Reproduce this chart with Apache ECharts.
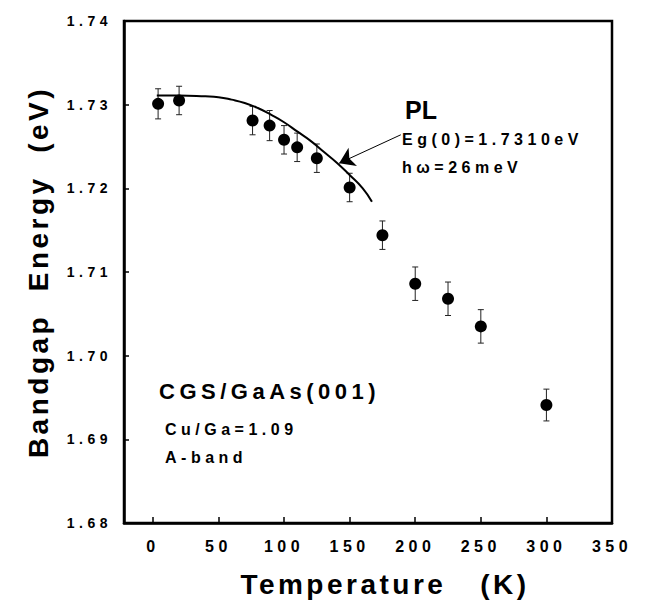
<!DOCTYPE html>
<html lang="en">
<head>
    <meta charset="UTF-8">
    <title>Bandgap Energy vs Temperature</title>
    <script src="https://cdn.jsdelivr.net/npm/echarts@6/dist/echarts.min.js"></script>
    <style type="text/css">
        html, body {
            margin: 0;
            padding: 0;
            background: #fff;
        }
        #chart {
            width: 660px;
            height: 610px;
        }
        /* old figure uses tracked Helvetica, svg text takes css letter-spacing */
        #chart text {
            letter-spacing: 4.5px;
            white-space: pre;
        }
        #chart text[style*="28px"] {
            letter-spacing: 3.5px;
        }
        #chart text[style*="25px"] {
            letter-spacing: 0;
        }
    </style>
</head>
<body>
<div id="chart"></div>
<script type="text/javascript">
    // measured points (K, eV) and their error bars
    var tempK = [4, 20, 76, 89, 100, 110, 125, 150, 175, 200, 225, 250, 300];
    var energyEV = [1.7301, 1.7305, 1.7281, 1.7275, 1.7258, 1.7249, 1.7236, 1.7201, 1.7144, 1.7086, 1.7068, 1.7035, 1.6941];
    var errEV = [0.0018, 0.0017, 0.0017, 0.0018, 0.0017, 0.0017, 0.0017, 0.0017, 0.0017, 0.0020, 0.0020, 0.0020, 0.0019];

    // fitted PL curve
    var fitT = [3, 20, 40, 50, 60, 70, 80, 90, 100, 110, 120, 130, 140, 150, 160, 167];
    var fitE = [1.7311, 1.7311, 1.7310, 1.7309, 1.7306, 1.7302, 1.7296, 1.7288, 1.7279, 1.7268, 1.7257, 1.7244, 1.7231, 1.7216, 1.7200, 1.7184];

    // axis ticks
    var xLabels = [0, 50, 100, 150, 200, 250, 300, 350];
    var xTicks = [0, 50, 100, 150, 200, 250, 300];
    var yTicks = [1.69, 1.70, 1.71, 1.72, 1.73];

    // arrow pointing at the curve
    var arrowFrom = [189, 1.7264];
    var arrowTo = [142, 1.7230];

    var FONT = 'Liberation Sans';

    var points = tempK.map(function (t, i) { return [t, energyEV[i]]; });
    var bars = tempK.map(function (t, i) { return [t, energyEV[i] - errEV[i], energyEV[i] + errEV[i]]; });
    var fit = fitT.map(function (t, i) { return [t, fitE[i]]; });

    function renderErrorBar(params, api) {
        var x = api.value(0);
        var lo = api.coord([x, api.value(1)]);
        var hi = api.coord([x, api.value(2)]);
        var cap = 3;
        var st = {stroke: '#222', lineWidth: 1};
        return {
            type: 'group',
            children: [
                {type: 'line', shape: {x1: lo[0], y1: lo[1], x2: hi[0], y2: hi[1]}, style: st},
                {type: 'line', shape: {x1: hi[0] - cap, y1: hi[1], x2: hi[0] + cap, y2: hi[1]}, style: st},
                {type: 'line', shape: {x1: lo[0] - cap, y1: lo[1], x2: lo[0] + cap, y2: lo[1]}, style: st}
            ]
        };
    }

    function note(text, x, y, size) {
        return {
            type: 'text',
            left: x,
            top: y,
            style: {
                text: text,
                fill: '#000',
                font: 'bold ' + size + 'px ' + FONT
            }
        };
    }

    var chart = echarts.init(document.getElementById('chart'), null, {renderer: 'svg'});
    chart.setOption({
        animation: false,
        backgroundColor: '#fff',
        grid: {
            left: 124,
            right: 48,
            top: 21,
            bottom: 87,
            show: true,
            borderColor: '#000',
            borderWidth: 2.5,
            backgroundColor: 'transparent'
        },
        xAxis: {
            type: 'value',
            min: -22,
            max: 350,
            name: 'Temperature   (K)',
            nameLocation: 'middle',
            nameGap: 47,
            nameTextStyle: {
                color: '#000',
                fontFamily: FONT,
                fontWeight: 'bold',
                fontSize: 28,
                padding: [0, 0, 0, 34]
            },
            axisLine: {onZero: false, lineStyle: {color: '#000', width: 2.5}},
            axisTick: {
                inside: true,
                length: 6,
                customValues: xTicks,
                lineStyle: {color: '#000', width: 1.5}
            },
            axisLabel: {
                customValues: xLabels,
                margin: 15,
                color: '#000',
                fontFamily: FONT,
                fontWeight: 'bold',
                fontSize: 16
            },
            splitLine: {show: false}
        },
        yAxis: {
            type: 'value',
            min: 1.68,
            max: 1.74,
            interval: 0.01,
            name: 'Bandgap  Energy  (eV)',
            nameLocation: 'middle',
            nameGap: 72,
            nameTextStyle: {
                color: '#000',
                fontFamily: FONT,
                fontWeight: 'bold',
                fontSize: 28
            },
            axisLine: {onZero: false, lineStyle: {color: '#000', width: 2.5}},
            axisTick: {
                inside: true,
                length: 5,
                customValues: yTicks,
                lineStyle: {color: '#000', width: 1.5}
            },
            axisLabel: {
                margin: 12,
                color: '#000',
                fontFamily: FONT,
                fontWeight: 'bold',
                fontSize: 14,
                formatter: function (v) { return v.toFixed(2); }
            },
            splitLine: {show: false}
        },
        graphic: [
            note('PL', 405, 97, 25),
            note('Eg(0)=1.7310eV', 402, 131, 16),
            note('h\u03c9=26meV', 402, 159, 16),
            note('CGS/GaAs(001)', 159, 380, 22),
            note('Cu/Ga=1.09', 165, 421, 16),
            note('A-band', 165, 449, 16)
        ],
        series: [
            {
                name: 'error',
                type: 'custom',
                renderItem: renderErrorBar,
                data: bars,
                silent: true,
                z: 1
            },
            {
                name: 'PL fit',
                type: 'line',
                data: fit,
                showSymbol: false,
                smooth: true,
                lineStyle: {color: '#000', width: 2},
                silent: true,
                z: 2,
                markLine: {
                    silent: true,
                    symbol: ['none', 'arrow'],
                    symbolSize: 15,
                    label: {show: false},
                    lineStyle: {color: '#000', width: 1, type: 'solid'},
                    emphasis: {disabled: true},
                    data: [[{coord: arrowFrom}, {coord: arrowTo}]]
                }
            },
            {
                name: 'PL',
                type: 'scatter',
                data: points,
                symbol: 'circle',
                symbolSize: 12,
                itemStyle: {color: '#000', opacity: 1},
                z: 3
            }
        ]
    });
</script>
</body>
</html>
